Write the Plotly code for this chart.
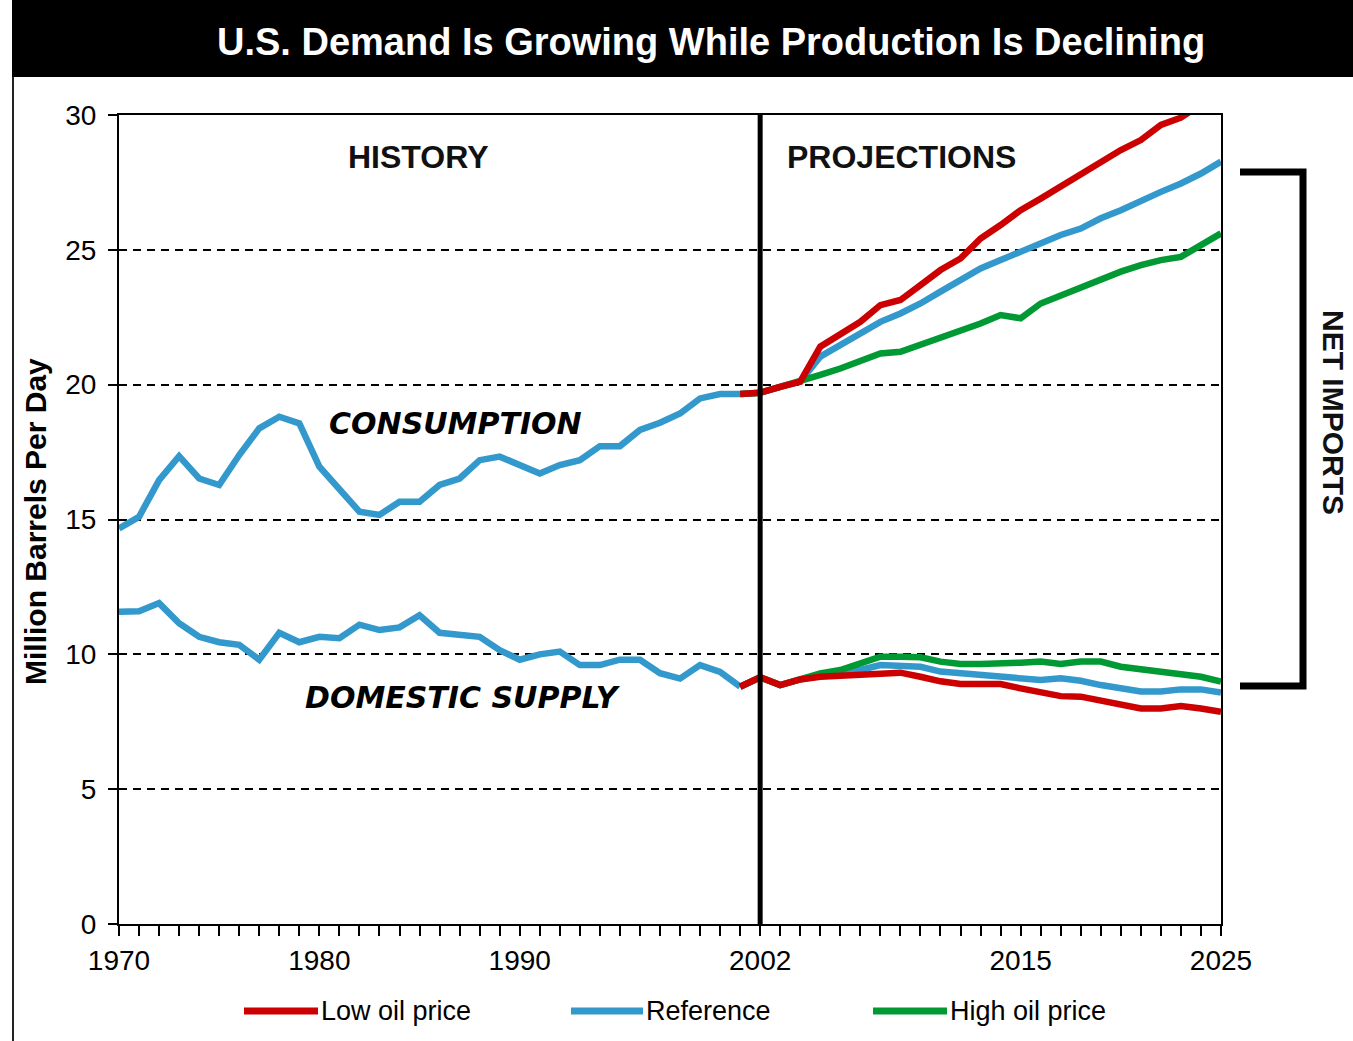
import plotly.graph_objects as go

# ---------------- data ----------------
years_hist = list(range(1970, 2002))
consumption_hist = [14.67, 15.1, 16.46, 17.35, 16.52, 16.28, 17.39, 18.38, 18.81, 18.56,
                    16.96, 16.09, 15.29, 15.17, 15.66, 15.66, 16.28, 16.52, 17.2, 17.33,
                    17.02, 16.71, 17.02, 17.2, 17.72, 17.72, 18.32, 18.59, 18.93, 19.49,
                    19.65, 19.65]
supply_hist = [11.58, 11.6, 11.9, 11.15, 10.65, 10.45, 10.35, 9.8, 10.8, 10.45,
               10.65, 10.6, 11.1, 10.9, 11.0, 11.45, 10.8, 10.75, 10.65, 10.15,
               9.8, 10.0, 10.1, 9.6, 9.6, 9.8, 9.8, 9.3, 9.1, 9.6,
               9.35, 8.8]

years_proj = list(range(2001, 2026))
consumption_low = [19.65, 19.7, 19.92, 20.11, 21.41, 21.84, 22.33, 22.95, 23.14, 23.69,
                   24.25, 24.68, 25.42, 25.92, 26.47, 26.9, 27.34, 27.83, 28.2, 28.7,
                   29.07, 29.63, 29.9, 30.4, 30.9]
consumption_ref = [19.65, 19.7, 19.92, 20.11, 21.04, 21.47, 21.9, 22.33, 22.64, 23.01,
                   23.45, 23.88, 24.31, 24.62, 24.93, 25.24, 25.55, 25.79, 26.17, 26.47,
                   26.84, 27.15, 27.46, 27.83, 28.27]
consumption_high = [19.65, 19.7, 19.92, 20.11, 20.36, 20.6, 20.85, 21.16, 21.22, 21.47,
                    21.72, 22.02, 22.27, 22.58, 22.46, 23.01, 23.32, 23.63, 23.88, 24.19,
                    24.43, 24.62, 24.74, 25.18, 25.61]
supply_low = [8.8, 9.15, 8.86, 9.07, 9.17, 9.2, 9.29, 9.32, 9.32, 9.17,
              9.0, 8.9, 8.9, 8.9, 8.74, 8.62, 8.45, 8.43, 8.3, 8.12,
              7.99, 7.99, 8.08, 7.99, 7.87]
supply_ref = [8.8, 9.15, 8.86, 9.07, 9.2, 9.29, 9.42, 9.6, 9.6, 9.54,
              9.36, 9.3, 9.27, 9.17, 9.15, 9.05, 9.11, 9.02, 8.86, 8.74,
              8.62, 8.62, 8.7, 8.7, 8.58]
supply_high = [8.8, 9.15, 8.86, 9.07, 9.29, 9.42, 9.69, 9.91, 9.91, 9.89,
               9.73, 9.64, 9.64, 9.64, 9.69, 9.73, 9.64, 9.73, 9.73, 9.54,
               9.45, 9.36, 9.23, 9.17, 8.99]

x_ticks = [1970, 1980, 1990, 2002, 2015, 2025]
cases = ["Low oil price", "Reference", "High oil price"]

# ---------------- style ----------------
RED = "#CC0000"
BLUE = "#3399CC"
GREEN = "#009933"
FONT = "Liberation Sans, Arial, sans-serif"
W, H = 1353, 1041
L, R, T, B = 119, 1221, 115, 924  # plot area in pixels


def px(x):
    return (x - L) / (R - L)


def py(y):
    return (B - y) / (B - T)


fig = go.Figure()
LW = 6.5

fig.add_trace(go.Scatter(x=years_hist, y=consumption_hist, mode="lines",
                         line=dict(color=BLUE, width=LW), showlegend=False))
fig.add_trace(go.Scatter(x=years_hist, y=supply_hist, mode="lines",
                         line=dict(color=BLUE, width=LW), showlegend=False))

for name, cons, sup, col in [("Reference", consumption_ref, supply_ref, BLUE),
                             ("High oil price", consumption_high, supply_high, GREEN),
                             ("Low oil price", consumption_low, supply_low, RED)]:
    fig.add_trace(go.Scatter(x=years_proj, y=cons, mode="lines", name=name,
                             line=dict(color=col, width=LW), showlegend=False))
    fig.add_trace(go.Scatter(x=years_proj, y=sup, mode="lines", name=name,
                             line=dict(color=col, width=LW), showlegend=False))

shapes = []
# title band
shapes.append(dict(type="rect", xref="paper", yref="paper",
                   x0=px(12), x1=px(W + 5), y0=py(77), y1=py(-5),
                   fillcolor="black", line=dict(width=0), layer="above"))
# left page border
shapes.append(dict(type="line", xref="paper", yref="paper",
                   x0=px(13), x1=px(13), y0=py(77), y1=py(H + 5),
                   line=dict(color="#222222", width=2)))
# 2002 divider
shapes.append(dict(type="line", xref="x", yref="paper", x0=2002, x1=2002, y0=0, y1=1,
                   line=dict(color="black", width=5), layer="above"))
# net imports bracket
shapes.append(dict(type="path", xref="paper", yref="paper",
                   path=f"M {px(1240)} {py(172)} L {px(1303)} {py(172)} L {px(1303)} {py(686)} L {px(1240)} {py(686)}",
                   line=dict(color="black", width=7)))


def ann(x, y, text, size, family=FONT, color="black", angle=0, xanchor="center"):
    return dict(x=px(x), y=py(y), xref="paper", yref="paper", text=text,
                xanchor=xanchor, yanchor="middle", textangle=angle, showarrow=False,
                font=dict(family=family, size=size, color=color))


annotations = [
    ann(711, 42, "<b>U.S. Demand Is Growing While Production Is Declining</b>", 38, color="white"),
    ann(418, 157, "<b>HISTORY</b>", 32, color="#111111"),
    ann(901, 157, "<b>PROJECTIONS</b>", 32, color="#111111"),
    ann(455, 423, "<b><i>CONSUMPTION</i></b>", 30, family="DejaVu Sans"),
    ann(463, 697, "<b><i>DOMESTIC SUPPLY</i></b>", 30, family="DejaVu Sans"),
    ann(1334, 412, "<b>NET IMPORTS</b>", 30, color="#111111", angle=90),
    ann(35, 522, "<b>Million Barrels Per Day</b>", 30, angle=-90),
]

# custom legend (long line swatches)
legend_items = [(cases[0], RED, 244, 318), (cases[1], BLUE, 571, 643), (cases[2], GREEN, 873, 947)]
for label, col, x0, x1 in legend_items:
    shapes.append(dict(type="line", xref="paper", yref="paper", x0=px(x0), x1=px(x1),
                       y0=py(1011), y1=py(1011), line=dict(color=col, width=7)))
    annotations.append(ann(x1 + 1, 1011, label, 27, xanchor="left"))

fig.update_layout(
    width=W, height=H,
    margin=dict(l=L, r=W - R, t=T, b=H - B),
    paper_bgcolor="white", plot_bgcolor="white",
    shapes=shapes, annotations=annotations, showlegend=False,
    xaxis=dict(range=[1970, 2025], tickvals=x_ticks, ticktext=[str(v) for v in x_ticks],
               ticks="outside", ticklen=10, tickwidth=1.5, tickcolor="black",
               showline=True, linecolor="black", linewidth=2, mirror=True,
               showgrid=False, zeroline=False,
               tickfont=dict(family=FONT, size=28, color="black"),
               minor=dict(dtick=1, tick0=1970, ticks="outside", ticklen=10, tickwidth=1.5,
                          tickcolor="black", showgrid=False)),
    yaxis=dict(range=[0, 30], dtick=5, tick0=0,
               ticks="outside", ticklen=9, tickwidth=1.5, tickcolor="black",
               showline=True, linecolor="black", linewidth=2, mirror=True,
               showgrid=True, gridcolor="black", gridwidth=2, griddash="8px,6px",
               zeroline=False, ticklabelstandoff=6,
               tickfont=dict(family=FONT, size=28, color="black")),
)

fig.write_html("out.html", config={"displayModeBar": False},
               post_script="document.body.style.margin='0';document.body.style.overflow='hidden';")
